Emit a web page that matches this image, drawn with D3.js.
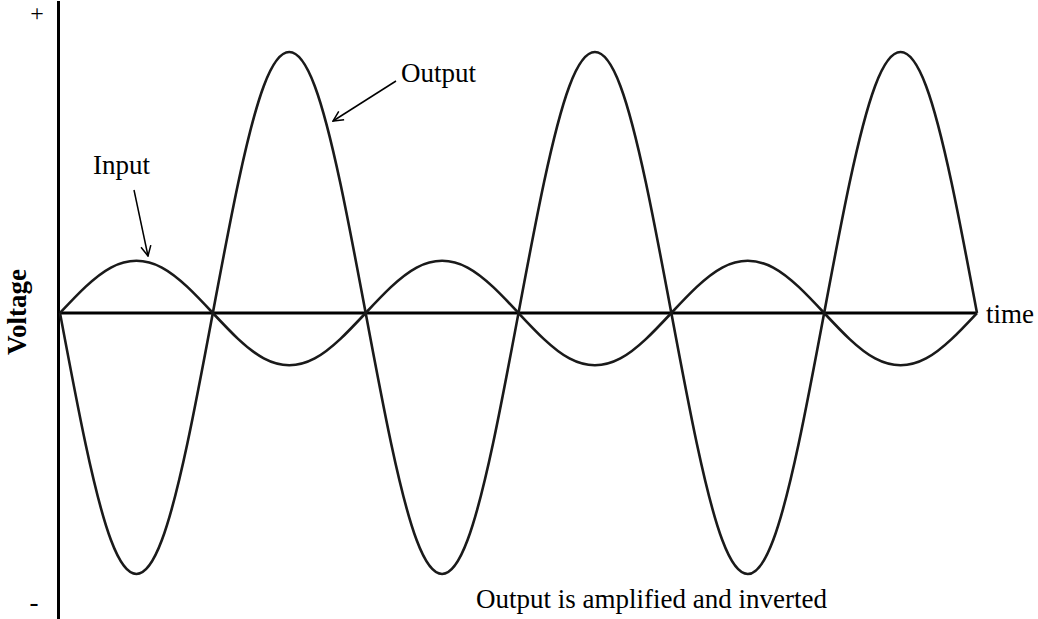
<!DOCTYPE html>
<html>
<head>
<meta charset="utf-8">
<script src="https://cdn.jsdelivr.net/npm/d3@7"></script>
<style>
  body { margin: 0; background: #fff; }
  text { font-family: "Liberation Serif", "Times New Roman", serif; fill: #000; }
</style>
</head>
<body>
<div id="chart"></div>
<script>
// phase in degrees, 6 half cycles across the time axis
const phase = [0, 30, 60, 90, 120, 150, 180, 210, 240, 270, 300, 330, 360,
               390, 420, 450, 480, 510, 540, 570, 600, 630, 660, 690, 720,
               750, 780, 810, 840, 870, 900, 930, 960, 990, 1020, 1050, 1080];
const inputV = [0, 0.5, 0.87, 1, 0.87, 0.5, 0, -0.5, -0.87, -1, -0.87, -0.5, 0,
                0.5, 0.87, 1, 0.87, 0.5, 0, -0.5, -0.87, -1, -0.87, -0.5, 0,
                0.5, 0.87, 1, 0.87, 0.5, 0, -0.5, -0.87, -1, -0.87, -0.5, 0];
const outputV = [0, -2.5, -4.35, -5, -4.35, -2.5, 0, 2.5, 4.35, 5, 4.35, 2.5, 0,
                 -2.5, -4.35, -5, -4.35, -2.5, 0, 2.5, 4.35, 5, 4.35, 2.5, 0,
                 -2.5, -4.35, -5, -4.35, -2.5, 0, 2.5, 4.35, 5, 4.35, 2.5, 0];

const width = 1038, height = 619;

const svg = d3.select("#chart").append("svg")
    .attr("width", width)
    .attr("height", height);

const x = d3.scaleLinear().domain([0, 1080]).range([60, 977]);
const y = d3.scaleLinear().domain([-5, 5]).range([574, 52]);

// arrow head marker
svg.append("defs").append("marker")
    .attr("id", "arrow")
    .attr("viewBox", "0 0 12 12")
    .attr("refX", 11).attr("refY", 6)
    .attr("markerWidth", 12).attr("markerHeight", 12)
    .attr("markerUnits", "userSpaceOnUse")
    .attr("orient", "auto")
    .append("path")
    .attr("d", "M1,1 L11,6 L1,11")
    .attr("fill", "none")
    .attr("stroke", "#000")
    .attr("stroke-width", 1.5);

// axes
svg.append("line")
    .attr("x1", 58.5).attr("x2", 58.5)
    .attr("y1", 1).attr("y2", height)
    .attr("stroke", "#000").attr("stroke-width", 3);

svg.append("line")
    .attr("x1", x(0)).attr("x2", x(1080))
    .attr("y1", y(0)).attr("y2", y(0))
    .attr("stroke", "#000").attr("stroke-width", 3);

const line = d3.line()
    .x((d, i) => x(phase[i]))
    .y(d => y(d))
    .curve(d3.curveNatural);

svg.append("path")
    .datum(inputV)
    .attr("d", line)
    .attr("fill", "none")
    .attr("stroke", "#1a1a1a")
    .attr("stroke-width", 2.6);

svg.append("path")
    .datum(outputV)
    .attr("d", line)
    .attr("fill", "none")
    .attr("stroke", "#1a1a1a")
    .attr("stroke-width", 2.6);

// labels
svg.append("text").attr("x", 37).attr("y", 21)
    .attr("text-anchor", "middle").attr("font-size", 24).text("+");
svg.append("text").attr("x", 34).attr("y", 611)
    .attr("text-anchor", "middle").attr("font-size", 27).text("-");

svg.append("text")
    .attr("transform", "translate(26,312) rotate(-90)")
    .attr("text-anchor", "middle")
    .attr("font-size", 27)
    .attr("font-weight", "bold")
    .text("Voltage");

svg.append("text").attr("x", 986).attr("y", 323)
    .attr("font-size", 27).text("time");

svg.append("text").attr("x", 93).attr("y", 174)
    .attr("font-size", 27).text("Input");
svg.append("line")
    .attr("x1", 134).attr("y1", 190).attr("x2", 148).attr("y2", 256)
    .attr("stroke", "#000").attr("stroke-width", 1.5)
    .attr("marker-end", "url(#arrow)");

svg.append("text").attr("x", 401).attr("y", 82)
    .attr("font-size", 27).text("Output");
svg.append("line")
    .attr("x1", 396).attr("y1", 81).attr("x2", 333).attr("y2", 121)
    .attr("stroke", "#000").attr("stroke-width", 1.5)
    .attr("marker-end", "url(#arrow)");

svg.append("text").attr("x", 476).attr("y", 608)
    .attr("font-size", 27).text("Output is amplified and inverted");
</script>
</body>
</html>
